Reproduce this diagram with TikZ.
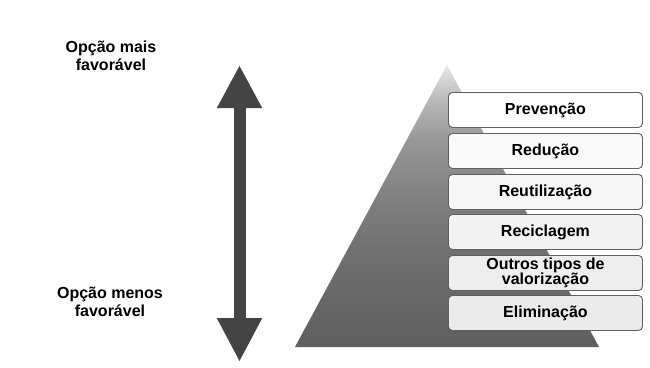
\documentclass[tikz,border=0pt]{standalone}
\usepackage{fontspec}
\setmainfont{Liberation Sans}
\usetikzlibrary{arrows.meta}
\definecolor{arrowgray}{RGB}{68,68,68}
\definecolor{boxline}{RGB}{95,95,95}
\pgfdeclareverticalshading{pyrshade}{100bp}{%
  rgb(0bp)=(0.37,0.37,0.37);
  rgb(25bp)=(0.37,0.37,0.37);
  rgb(42bp)=(0.44,0.44,0.44);
  rgb(51bp)=(0.50,0.50,0.50);
  rgb(61.5bp)=(0.59,0.59,0.59);
  rgb(69bp)=(0.73,0.73,0.73);
  rgb(75bp)=(0.91,0.91,0.91);
  rgb(100bp)=(0.91,0.91,0.91)}
\tikzset{
  lbl/.style={font=\bfseries\fontsize{16}{18.5}\selectfont, align=center, text=black},
  level/.style={draw=boxline, line width=0.9pt, rounded corners=4pt,
    minimum width=194pt, minimum height=35pt, inner sep=0pt,
    font=\bfseries\fontsize{16}{15}\selectfont, align=center, text=black, anchor=north west},
}
\begin{document}
\begin{tikzpicture}[x=1pt,y=-1pt]
\useasboundingbox[fill=white] (0,0) rectangle (650,367);
% pyramid
\shade[shading=pyrshade] (447,65) -- (599,347) -- (295,347) -- cycle;
% levels
\node[level, fill=white]      (p1) at (448,92)  {Prevenção};
\node[level, fill=gray!4]     (p2) at (448,133) {Redução};
\node[level, fill=gray!7]     (p3) at (448,174) {Reutilização};
\node[level, fill=gray!10]    (p4) at (448,214) {Reciclagem};
\node[level, fill=gray!13]    (p5) at (448,255) {Outros tipos de\\valorização};
\node[level, fill=gray!16]    (p6) at (448,295) {Eliminação};
% labels
\node[lbl] (top) at (111,56) {Opção mais\\favorável};
\node[lbl] (bot) at (110,302) {Opção menos\\favorável};
% double arrow
\coordinate (atop) at (239.5,65);
\coordinate (abot) at (239.5,362);
\draw[arrowgray, line width=12pt,
  {Triangle[length=43pt,width=42pt]}-{Triangle[length=44pt,width=42pt]}] (atop) -- (abot);
\end{tikzpicture}
\end{document}
